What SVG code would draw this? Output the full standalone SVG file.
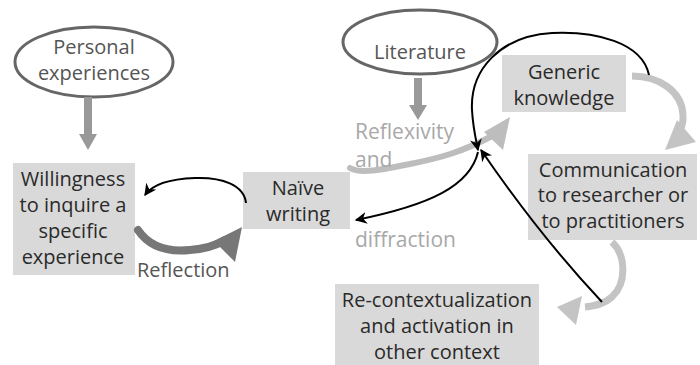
<svg xmlns="http://www.w3.org/2000/svg" width="700" height="365" viewBox="0 0 700 365">
<defs>
<style>
text{font-family:"Open Sans","Liberation Sans",sans-serif;font-size:20px;text-anchor:middle;fill:#2a2a2a}
.box{fill:#d9d9d9}
.ell{fill:#fff;stroke:#666;stroke-width:3}
.blk{fill:none;stroke:#000;stroke-width:2}
.lbl{fill:#a8a8a8;text-anchor:start;font-size:21px}
</style>
<marker id="ah" viewBox="0 0 10 10" refX="9" refY="5" markerWidth="12" markerHeight="12" markerUnits="userSpaceOnUse" orient="auto">
<path d="M0,0 L10,5 L0,10 L3,5 Z" fill="#000"/>
</marker>
</defs>
<rect width="700" height="365" fill="#fff"/>

<g id="personal">
<ellipse class="ell" cx="94" cy="62" rx="79" ry="35"/>
<text x="94" y="54" style="fill:#555">Personal</text>
<text x="94" y="80" style="fill:#555">experiences</text>
</g>
<g id="literature">
<ellipse class="ell" cx="420" cy="42" rx="77" ry="32"/>
<text x="420" y="59" style="fill:#555">Literature</text>
</g>
<g id="willingness">
<rect class="box" x="13" y="163" width="122" height="112"/>
<text x="73" y="186">Willingness</text>
<text x="73" y="212">to inquire a</text>
<text x="73" y="238">specific</text>
<text x="73" y="264">experience</text>
</g>
<g id="naive">
<rect class="box" x="243" y="172" width="107" height="57"/>
<text x="298" y="195">Naïve</text>
<text x="298" y="221">writing</text>
</g>
<g id="generic">
<rect class="box" x="502" y="55" width="124" height="57"/>
<text x="564" y="79">Generic</text>
<text x="564" y="105">knowledge</text>
</g>
<g id="communication">
<rect class="box" x="528" y="154" width="169" height="86"/>
<text x="613" y="177">Communication</text>
<text x="613" y="202">to researcher or</text>
<text x="613" y="228">to practitioners</text>
</g>
<g id="recontext">
<rect class="box" x="335" y="284" width="204" height="81"/>
<text x="437" y="307">Re-contextualization</text>
<text x="437" y="333">and activation in</text>
<text x="437" y="359">other context</text>
</g>

<g id="connectors">
<!-- Personal -> Willingness -->
<rect x="84" y="97" width="8" height="38" fill="#999"/>
<polygon points="79,134 97,134 88,150" fill="#999"/>
<!-- Literature -> reflexivity -->
<rect x="414" y="78" width="8" height="28" fill="#999"/>
<polygon points="409,105 427,105 418,120" fill="#999"/>
<!-- Reflection -->
<path d="M138,230 C150,248 170,252 190,250 C205,249 215,246 225,240" fill="none" stroke="#777" stroke-width="8" stroke-linecap="round"/>
<polygon points="242,227 214,241 235,262" fill="#777"/>
<!-- Naive -> Willingness -->
<path class="blk" d="M246,203 C244,185 222,177 195,178 C168,179 152,185 145,195" marker-end="url(#ah)"/>
<!-- Reflexivity and diffraction -->
<path d="M350,168 C360,174 380,170 410,164 C440,158 462,152 492,136" fill="none" stroke="#bdbdbd" stroke-width="6" stroke-linecap="round"/>
<polygon points="510,117 484,132 503,150" fill="#bdbdbd"/>
<!-- Generic -> Communication -->
<path d="M632,76 C660,76 682,92 683,115 C684,125 680,132 676,138" fill="none" stroke="#c4c4c4" stroke-width="7"/>
<polygon points="665,150 677,120 696,142" fill="#c4c4c4"/>
<!-- Communication -> Re-contextualization -->
<path d="M612,242 C626,255 627,283 612,297 C604,304 596,306 585,307" fill="none" stroke="#c4c4c4" stroke-width="7"/>
<polygon points="557,307 582,296 576,325" fill="#c4c4c4"/>
<!-- Generic big loop -->
<path class="blk" d="M649,75 C642,42 595,31 552,33 C500,36 470,70 472,110 C473,128 476,140 478,150" marker-end="url(#ah)"/>
<!-- Re-contextualization back -->
<path class="blk" d="M602,302 Q540,236 481,150" marker-end="url(#ah)"/>
<!-- to Naive -->
<path class="blk" d="M478,152 C470,186 430,205 356,220" marker-end="url(#ah)"/>
</g>

<text class="lbl" x="355" y="139">Reflexivity</text>
<text class="lbl" x="355" y="167">and</text>
<text class="lbl" x="355" y="247">diffraction</text>
<text x="137" y="277" style="fill:#555;text-anchor:start">Reflection</text>
</svg>
